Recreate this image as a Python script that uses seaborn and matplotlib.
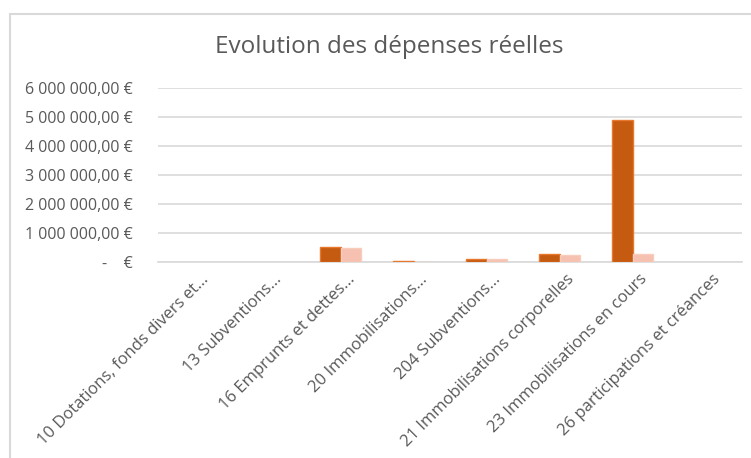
import pandas as pd
import matplotlib.pyplot as plt
import matplotlib.transforms as mtransforms
from matplotlib.patches import Rectangle
import seaborn as sns

# Data
categories = ['10 Dotations, fonds divers et...', '13 Subventions...', '16 Emprunts et dettes...',
              '20 Immobilisations...', '204 Subventions...', '21 Immobilisations corporelles',
              '23 Immobilisations en cours', '26 participations et créances']
serie_1 = [0, 0, 530000, 50000, 120000, 260000, 4880000, 0]
serie_2 = [0, 0, 490000, 5000, 90000, 255000, 260000, 0]
series_names = ['Année N-1', 'Année N']
y_ticks = [0, 1000000, 2000000, 3000000, 4000000, 5000000, 6000000]

df = pd.DataFrame({
    'Chapitre': categories * 2,
    'Montant': serie_1 + serie_2,
    'Série': [series_names[0]] * len(categories) + [series_names[1]] * len(categories),
})

sns.set_style('white')
plt.rcParams['font.family'] = ['Open Sans', 'DejaVu Sans']

fig = plt.figure(figsize=(7.51, 4.58), dpi=100)
ax = fig.add_axes([158 / 751, 1 - 262 / 458, (742 - 158) / 751, (262 - 88) / 458])

palette = ['#C55A11', '#F6C1B0']
sns.barplot(data=df, x='Chapitre', y='Montant', hue='Série', palette=palette, saturation=1,
            width=0.55, gap=0, legend=False, ax=ax, zorder=3)

# outlines like the Excel bars, none on empty bars
edges = ['#E8782E'] * 8 + ['#F8CDBE'] * 8
for bar, ec in zip(ax.patches, edges):
    bar.set_edgecolor(ec)
    bar.set_linewidth(1.0 if bar.get_height() > 0 else 0)

ax.set_ylim(0, 6000000)
ax.set_yticks(y_ticks)


def euro(v):
    if v == 0:
        return '-    €'
    return f'{v:,.2f}'.replace(',', ' ').replace('.', ',') + ' €'


ax.set_yticklabels([euro(v) for v in y_ticks], color='#595959', fontsize=11.5)
ax.yaxis.grid(True, color='#D9D9D9', linewidth=1.2, zorder=0)
ax.tick_params(axis='y', length=0, pad=18)
ax.tick_params(axis='x', length=0)
for s in ['top', 'right', 'left']:
    ax.spines[s].set_visible(False)
ax.spines['bottom'].set_color('#D9D9D9')
ax.spines['bottom'].set_linewidth(1.2)
ax.set_xlim(-0.5, len(categories) - 0.5)
ax.set_xlabel('')
ax.set_ylabel('')

offset = mtransforms.ScaledTranslation(12 / 100, -10 / 100, fig.dpi_scale_trans)
for lab in ax.get_xticklabels():
    lab.set_rotation(45)
    lab.set_rotation_mode('anchor')
    lab.set_ha('right')
    lab.set_va('center')
    lab.set_color('#595959')
    lab.set_fontsize(12)
    lab.set_transform(lab.get_transform() + offset)

fig.text(389 / 751, 1 - 47 / 458, 'Evolution des dépenses réelles', ha='center', va='center',
         fontsize=17.5, color='#595959')

# chart frame
fig.add_artist(Rectangle((10 / 751, -0.1), 1.2, 1 - 14 / 458 + 0.1, transform=fig.transFigure,
                         fill=False, edgecolor='#D9D9D9', linewidth=1.5, clip_on=False))

fig.savefig('out.png', dpi=100)
